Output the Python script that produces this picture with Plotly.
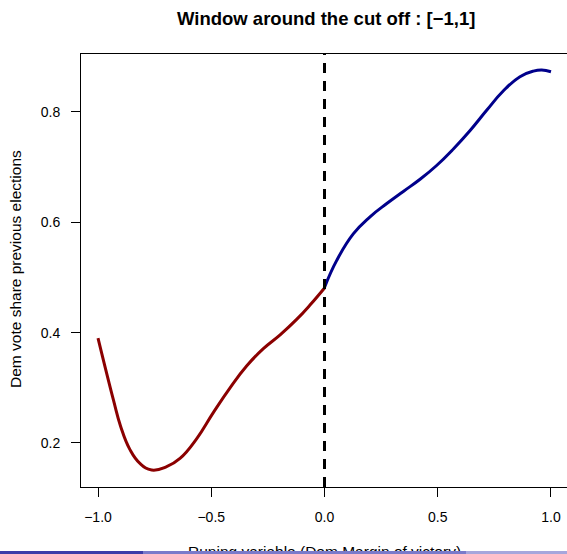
import plotly.graph_objects as go

# Fitted values left of the cutoff (Dem margin < 0)
left_x = [-1.0, -0.932, -0.900, -0.859, -0.815, -0.763, -0.697, -0.638, -0.564,
          -0.491, -0.417, -0.343, -0.270, -0.196, -0.123, -0.064, 0.0]
left_y = [0.390, 0.278, 0.230, 0.188, 0.163, 0.151, 0.157, 0.172, 0.208,
          0.255, 0.300, 0.340, 0.371, 0.396, 0.424, 0.450, 0.481]

# Fitted values right of the cutoff (Dem margin > 0)
right_x = [0.0, 0.054, 0.127, 0.201, 0.275, 0.348, 0.422, 0.495, 0.569,
           0.642, 0.716, 0.789, 0.863, 0.922, 0.959, 1.0]
right_y = [0.482, 0.531, 0.579, 0.610, 0.634, 0.656, 0.678, 0.703, 0.733,
           0.766, 0.803, 0.838, 0.864, 0.874, 0.876, 0.873]

cutoff = 0.0
x_ticks = [-1.0, -0.5, 0.0, 0.5, 1.0]
x_tick_text = ["\u22121.0", "\u22120.5", "0.0", "0.5", "1.0"]
y_ticks = [0.2, 0.4, 0.6, 0.8]
y_tick_text = ["0.2", "0.4", "0.6", "0.8"]

FONT = "Liberation Sans, Arial, sans-serif"
W, H = 567, 554
ML, MT, MB = 81, 54, 67
PW, PH = W - ML, H - MT - MB


def px_x(px):
    return (px - ML) / PW


def px_y(py):
    return (H - MB - py) / PH


fig = go.Figure()
fig.add_trace(go.Scatter(x=left_x, y=left_y, mode="lines",
                         line=dict(color="#8B0000", width=3, shape="spline", smoothing=1.3),
                         hoverinfo="skip", showlegend=False))
fig.add_trace(go.Scatter(x=right_x, y=right_y, mode="lines",
                         line=dict(color="#00008B", width=3, shape="spline", smoothing=1.3),
                         hoverinfo="skip", showlegend=False))

fig.add_shape(type="line", xref="x", yref="paper", x0=cutoff, x1=cutoff, y0=0, y1=1,
              line=dict(color="black", width=3, dash="10px,8px"), layer="above")

annotations = [
    dict(text="<b>Window around the cut off : [\u22121,1]</b>", xref="paper", yref="paper",
         x=px_x(325.5), y=px_y(19), xanchor="center", yanchor="middle", showarrow=False,
         font=dict(family=FONT, size=18.5, color="black")),
    dict(text="Dem vote share previous elections", xref="paper", yref="paper",
         x=px_x(15), y=px_y(269), xanchor="center", yanchor="middle", textangle=-90,
         showarrow=False, font=dict(family=FONT, size=15.5, color="black")),
    dict(text="Runing variable (Dem Margin of victory)", xref="paper", yref="paper",
         x=px_x(324.5), y=px_y(541), xanchor="center", yanchor="top", showarrow=False,
         font=dict(family=FONT, size=15.5, color="black")),
]

# footer strip drawn over the axis title
for x0, x1, col in [(0, 143, "#3c3ca8"), (143, 466, "#7a7aca"), (466, 567, "#a6a6dc")]:
    annotations.append(dict(text=" ", xref="paper", yref="paper",
                            x=px_x(x0), y=px_y(554), xanchor="left", yanchor="bottom",
                            width=x1 - x0, height=3, bgcolor=col, borderpad=0, borderwidth=0,
                            showarrow=False, font=dict(size=1)))

fig.update_layout(
    width=W, height=H,
    margin=dict(l=ML, r=0, t=MT, b=MB, pad=0),
    paper_bgcolor="white", plot_bgcolor="white",
    font=dict(family=FONT, size=14, color="black"),
    annotations=annotations,
    xaxis=dict(range=[-1.0751, 1.0707], tickvals=x_ticks, ticktext=x_tick_text,
               showgrid=False, zeroline=False, showline=True, linecolor="black",
               linewidth=1, mirror=True, ticks="outside", ticklen=9, tickwidth=1,
               tickcolor="black", ticklabelstandoff=8),
    yaxis=dict(range=[0.1202, 0.9051], tickvals=y_ticks, ticktext=y_tick_text,
               showgrid=False, zeroline=False, showline=True, linecolor="black",
               linewidth=1, mirror=False, ticks="outside", ticklen=9, tickwidth=1,
               tickcolor="black", ticklabelstandoff=8),
)

fig.write_html("out.html")
